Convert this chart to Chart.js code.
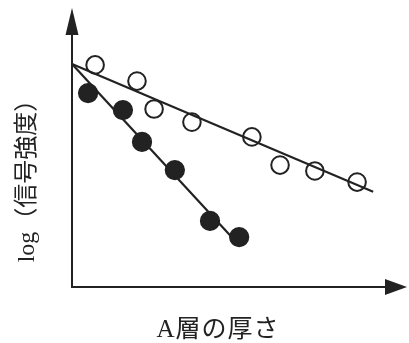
<!DOCTYPE html>
<html>
<head>
<meta charset="utf-8">
<script src="https://cdn.jsdelivr.net/npm/chart.js@4"></script>
<style>
  html, body { margin: 0; padding: 0; background: #fff; }
  #wrap { width: 409px; height: 343px; }
</style>
</head>
<body>
<div id="wrap"><canvas id="myChart"></canvas></div>
<script>
// values (arbitrary units, axes have no ticks)
var openX = [0.69, 1.94, 2.45, 3.58, 5.37, 6.21, 7.25, 8.51];
var openY = [7.96, 7.38, 6.38, 5.91, 5.38, 4.37, 4.16, 3.76];
var filledX = [0.48, 1.52, 2.09, 3.07, 4.12, 4.99];
var filledY = [6.95, 6.34, 5.20, 4.19, 2.37, 1.79];
// fitted lines: start and end
var openFitX = [0, 8.99];
var openFitY = [7.99, 3.41];
var filledFitX = [0, 4.93];
var filledFitY = [7.99, 1.58];

var xTitle = 'A層の厚さ';
var yTitle = 'log（信号強度）';

function pts(xs, ys) {
  return xs.map(function (x, i) { return { x: x, y: ys[i] }; });
}

var ink = '#222';

// axes with arrow heads + axis titles
var arrowAxes = {
  id: 'arrowAxes',
  afterDraw: function (chart) {
    var c = chart.ctx, a = chart.chartArea;
    c.save();
    c.strokeStyle = ink;
    c.fillStyle = ink;
    c.lineWidth = 2;
    c.beginPath();
    c.moveTo(a.left, a.bottom + 1);
    c.lineTo(a.left, a.top + 10);
    c.moveTo(a.left - 1, a.bottom);
    c.lineTo(a.right - 10, a.bottom);
    c.stroke();
    // y arrow
    c.beginPath();
    c.moveTo(a.left, a.top);
    c.lineTo(a.left - 6.5, a.top + 27);
    c.lineTo(a.left + 6.5, a.top + 27);
    c.closePath();
    c.fill();
    // x arrow
    c.beginPath();
    c.moveTo(a.right, a.bottom);
    c.lineTo(a.right - 22, a.bottom - 8);
    c.lineTo(a.right - 22, a.bottom + 8);
    c.closePath();
    c.fill();

    c.textAlign = 'center';
    c.textBaseline = 'middle';
    c.font = '25px "Liberation Serif", "Noto Sans CJK JP"';
    c.letterSpacing = '1px';
    c.fillText(xTitle, 218, 330);
    c.letterSpacing = '0px';

    c.translate(28, 175);
    c.rotate(-Math.PI / 2);
    c.font = '24px "Liberation Serif", "Noto Sans CJK JP"';
    c.fillText(yTitle, 0, 0);
    c.restore();
  }
};

var ctx = document.getElementById('myChart').getContext('2d');
var myChart = new Chart(ctx, {
  type: 'scatter',
  data: {
    datasets: [{
      data: pts(openFitX, openFitY),
      showLine: true,
      borderColor: ink,
      borderWidth: 2.2,
      pointRadius: 0,
      clip: false
    }, {
      data: pts(filledFitX, filledFitY),
      showLine: true,
      borderColor: ink,
      borderWidth: 2.2,
      pointRadius: 0,
      clip: false
    }, {
      data: pts(openX, openY),
      pointRadius: 8.8,
      borderWidth: 2,
      borderColor: ink,
      backgroundColor: '#fff',
      clip: false
    }, {
      data: pts(filledX, filledY),
      pointRadius: 9.4,
      borderWidth: 1.5,
      borderColor: ink,
      backgroundColor: ink,
      clip: false
    }]
  },
  options: {
    responsive: true,
    maintainAspectRatio: false,
    animation: false,
    events: [],
    layout: { autoPadding: false, padding: { left: 72, right: 2, top: 8, bottom: 56 } },
    plugins: { legend: { display: false }, tooltip: { enabled: false } },
    scales: {
      x: { type: 'linear', min: 0, max: 10, display: false },
      y: { type: 'linear', min: 0, max: 10, display: false }
    }
  },
  plugins: [arrowAxes]
});
</script>
</body>
</html>
